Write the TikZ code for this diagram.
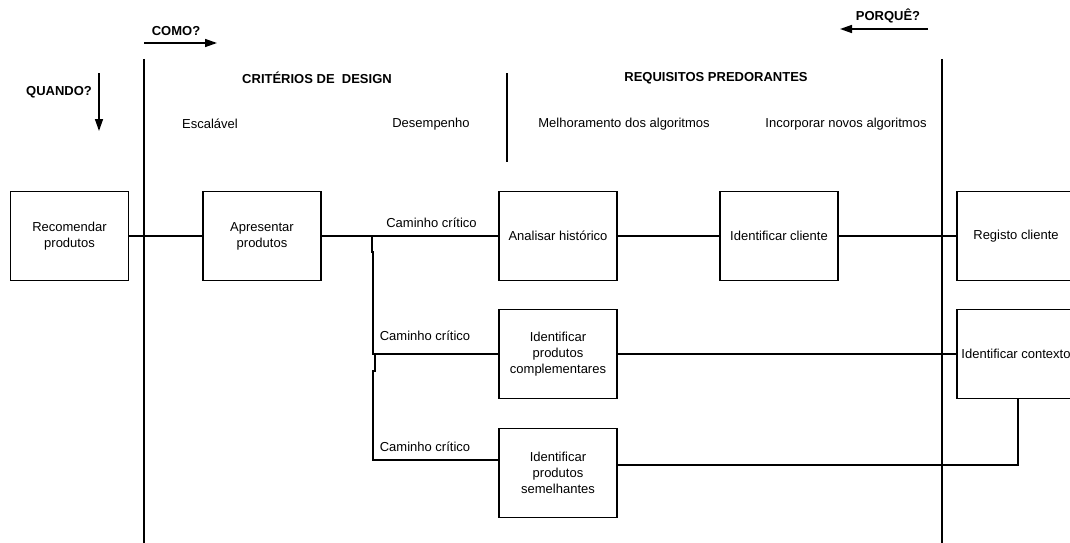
\documentclass[tikz,border=0pt]{standalone}
\usepackage{fontspec}
\setmainfont{Liberation Sans}
\usetikzlibrary{arrows.meta}
\begin{document}
\begin{tikzpicture}[x=1pt,y=-1pt,
  txt/.style={font=\fontsize{13}{16}\selectfont, inner sep=0pt},
  head/.style={font=\fontsize{13}{16}\selectfont\bfseries, inner sep=0pt},
  box/.style={draw, line width=1.5pt, minimum width=118pt, minimum height=89pt,
    align=center, inner sep=2pt, font=\fontsize{13}{16}\selectfont},
  wire/.style={line width=1.5pt},
  dir/.style={line width=1.5pt, -{Triangle[length=12pt,width=8pt]}}]
\useasboundingbox (0,0) rectangle (1070,543);
\clip (0,0) rectangle (1070,543);

% column separators
\coordinate (sepLtop) at (144,59);
\coordinate (sepLbot) at (144,545);
\coordinate (sepRtop) at (942,59);
\coordinate (sepRbot) at (942,545);
\coordinate (sepMtop) at (507,73);
\coordinate (sepMbot) at (507,162);
\draw[wire] (sepLtop) -- (sepLbot);
\draw[wire] (sepRtop) -- (sepRbot);
\draw[wire] (sepMtop) -- (sepMbot);

% direction indicators
\node[head] (como) at (176,31) {COMO?};
\coordinate (comoA) at (144,43);
\coordinate (comoB) at (217,43);
\draw[dir] (comoA) -- (comoB);

\node[head] (porque) at (888,16) {PORQUÊ?};
\coordinate (porA) at (928,29);
\coordinate (porB) at (840,29);
\draw[dir] (porA) -- (porB);

\node[head] (quando) at (59,92) {QUANDO?};
\coordinate (quaA) at (99,73);
\coordinate (quaB) at (99,131);
\draw[dir] (quaA) -- (quaB);

% headings
\node[head] (crit) at (317,78) {CRITÉRIOS DE\ \ DESIGN};
\node[head] (req) at (716,78) {REQUISITOS PREDORANTES};
\node[txt] (esc) at (210,124) {Escalável};
\node[txt] (des) at (431,124) {Desempenho};
\node[txt] (mel) at (624,124) {Melhoramento dos algoritmos};
\node[txt] (inc) at (846,124) {Incorporar novos algoritmos};

% activity boxes
\node[box] (rec) at (69.5,236) {Recomendar\\produtos};
\node[box] (apr) at (262,236) {Apresentar\\produtos};
\node[box] (ana) at (558,236) {Analisar histórico};
\node[box] (idc) at (779,236) {Identificar cliente};
\node[box] (reg) at (1016,236) {Registo cliente};
\node[box] (comp) at (558,354) {Identificar\\produtos\\complementares};
\node[box] (ctx) at (1016,354) {Identificar contexto};
\node[box] (sem) at (558,473) {Identificar\\produtos\\semelhantes};

% main path
\draw[wire] (rec) -- (apr);
\draw[wire] (apr) -- (ana);
\draw[wire] (ana) -- (idc);
\draw[wire] (idc) -- (reg);
\draw[wire] (comp) -- (ctx);

% branches
\coordinate (b1) at (372,236);
\coordinate (b1a) at (372,252);
\coordinate (b1b) at (373,252);
\coordinate (b2) at (373,354);
\coordinate (b2a) at (375,354);
\coordinate (b2b) at (375,371);
\coordinate (b2c) at (373,371);
\coordinate (b3) at (373,460);
\draw[wire] (b1) -- (b1a) -- (b1b) -- (b2) -- (comp.west);
\draw[wire] (b2a) -- (b2b) -- (b2c) -- (b3) -- (b3 -| sem.west);

\coordinate (s1) at (617,465);
\coordinate (s2) at (1018,465);
\coordinate (s3) at (1018,399);
\draw[wire] (s1) -- (s2) -- (s3);

% path labels
\node[txt] (l1) at (431.5,223) {Caminho crítico};
\node[txt] (l2) at (425,336) {Caminho crítico};
\node[txt] (l3) at (425,447) {Caminho crítico};
\end{tikzpicture}
\end{document}
